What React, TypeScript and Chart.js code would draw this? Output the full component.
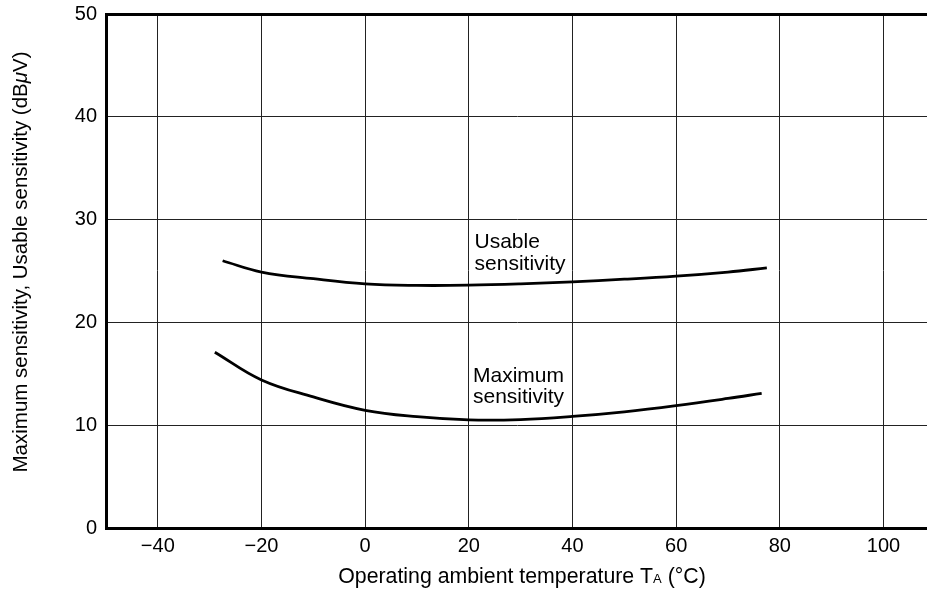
import React, { useEffect, useRef } from "react";
import { Chart, registerables } from "chart.js";

Chart.register(...registerables);

const usableT = [-27.5, -20, -10, 0, 10, 20, 30, 40, 50, 60, 70, 77.5];
const usableV = [26.0, 24.9, 24.25, 23.75, 23.6, 23.62, 23.75, 23.95, 24.2, 24.5, 24.9, 25.3];
const maxT = [-29, -20, -10, 0, 10, 20, 30, 40, 50, 60, 70, 76.5];
const maxV = [17.1, 14.4, 12.75, 11.45, 10.83, 10.52, 10.55, 10.85, 11.3, 11.9, 12.6, 13.1];
const xTicks = [-40, -20, 0, 20, 40, 60, 80, 100];
const yTicks = [0, 10, 20, 30, 40, 50];

const FONT = '"Liberation Sans", Arial, sans-serif';

const textPlugin = {
  id: "texts",
  afterDraw(chart: any) {
    const { ctx, chartArea, scales } = chart;
    const xs = scales.x;
    const ys = scales.y;
    ctx.save();
    ctx.fillStyle = "#000";
    ctx.textBaseline = "alphabetic";
    ctx.textAlign = "left";
    ctx.font = `21px ${FONT}`;
    // curve labels
    const ux = xs.getPixelForValue(21.1);
    ctx.fillText("Usable", ux, ys.getPixelForValue(27.25));
    ctx.fillText("sensitivity", ux, ys.getPixelForValue(25.1));
    const mx = xs.getPixelForValue(20.8);
    ctx.fillText("Maximum", mx, ys.getPixelForValue(14.17));
    ctx.fillText("sensitivity", mx, ys.getPixelForValue(12.17));

    // x title
    const big = `21.3px ${FONT}`;
    const small = `13px ${FONT}`;
    const segs: [string, string][] = [
      ["Operating ambient temperature T", big],
      ["A", small],
      [" (°C)", big],
    ];
    let total = 0;
    for (const [t, f] of segs) {
      ctx.font = f;
      total += ctx.measureText(t).width;
    }
    let cx = 522 - total / 2;
    const by = 583;
    for (const [t, f] of segs) {
      ctx.font = f;
      ctx.fillText(t, cx, by);
      cx += ctx.measureText(t).width;
    }

    // y title
    const ybig = `20.5px ${FONT}`;
    const ysegs: [string, string][] = [
      ["Maximum sensitivity, Usable sensitivity (dB", ybig],
      ["μ", `italic 20.5px ${FONT}`],
      ["V)", ybig],
    ];
    total = 0;
    for (const [t, f] of ysegs) {
      ctx.font = f;
      total += ctx.measureText(t).width;
    }
    ctx.translate(27, 262);
    ctx.rotate(-Math.PI / 2);
    let px = -total / 2;
    for (const [t, f] of ysegs) {
      ctx.font = f;
      ctx.fillText(t, px, 0);
      px += ctx.measureText(t).width;
    }
    ctx.restore();
  },
};

export default function App() {
  const ref = useRef<HTMLCanvasElement>(null);
  useEffect(() => {
    if (!ref.current) return;
    const chart = new Chart(ref.current, {
      type: "scatter",
      data: {
        datasets: [
          {
            data: usableT.map((t, i) => ({ x: t, y: usableV[i] })),
            showLine: true,
            borderColor: "#000",
            borderWidth: 2.8,
            pointRadius: 0,
            tension: 0.4,
          },
          {
            data: maxT.map((t, i) => ({ x: t, y: maxV[i] })),
            showLine: true,
            borderColor: "#000",
            borderWidth: 2.8,
            pointRadius: 0,
            tension: 0.4,
          },
        ],
      },
      options: {
        responsive: false,
        animation: false,
        devicePixelRatio: 1,
        layout: { padding: { top: 14, left: 0, right: 0, bottom: 0 } },
        plugins: { legend: { display: false }, tooltip: { enabled: false } },
        scales: {
          x: {
            type: "linear",
            min: -50,
            max: 108.4,
            afterBuildTicks: (s: any) => {
              s.ticks = xTicks.map((v) => ({ value: v }));
            },
            afterFit: (s: any) => {
              s.height = 70;
              s.paddingLeft = 0;
              s.paddingRight = 0;
            },
            grid: { color: "#222", lineWidth: 1, drawTicks: false },
            border: { color: "#000", width: 3 },
            ticks: {
              color: "#000",
              font: { size: 20, family: FONT },
              padding: 6,
              maxRotation: 0,
              callback: (v: any) => String(v).replace("-", "\u2212"),
            },
          },
          y: {
            type: "linear",
            min: 0,
            max: 50,
            afterBuildTicks: (s: any) => {
              s.ticks = yTicks.map((v) => ({ value: v }));
            },
            afterFit: (s: any) => {
              s.width = 106;
              s.paddingTop = 0;
              s.paddingBottom = 0;
            },
            grid: {
              color: (c: any) => (c.tick && c.tick.value === 50 ? "#000" : "#222"),
              lineWidth: (c: any) => (c.tick && c.tick.value === 50 ? 3 : 1),
              drawTicks: false,
            },
            border: { color: "#000", width: 3 },
            ticks: {
              color: "#000",
              font: { size: 20, family: FONT },
              padding: 9,
            },
          },
        },
      },
      plugins: [textPlugin],
    } as any);
    return () => chart.destroy();
  }, []);
  return (
    <div style={{ position: "absolute", left: 0, top: 0, width: 927, height: 598 }}>
      <canvas ref={ref} width={927} height={598} style={{ width: 927, height: 598 }} />
    </div>
  );
}
